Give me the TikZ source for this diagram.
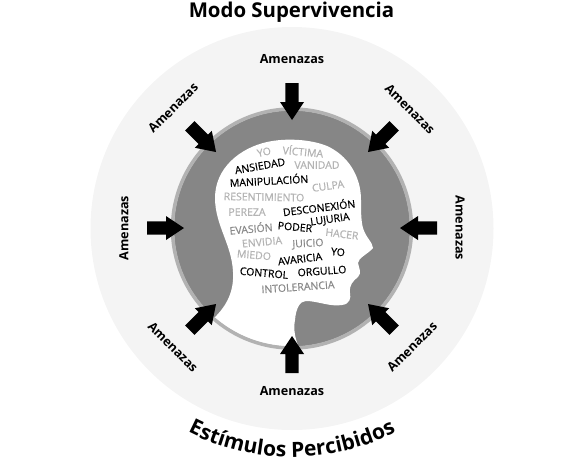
\documentclass[tikz,border=0pt]{standalone}
\usepackage{fontspec}
\setmainfont{Open Sans}
\newfontfamily\wordfont[FakeBold=0.5]{Open Sans}
\usetikzlibrary{decorations.text}
\definecolor{halo}{HTML}{F4F4F4}
\definecolor{ringc}{HTML}{B2B2B2}
\definecolor{darkc}{HTML}{868686}
\definecolor{wgray}{HTML}{B4B4B4}
\definecolor{mgray}{HTML}{8A8A8A}
\tikzset{
  threat/.pic={\fill[black] (0,0)--(18,12)--(18,6.7)--(37,6.7)--(37,-6.7)--(18,-6.7)--(18,-12)--cycle;},
  lab/.style={font=\bfseries\fontsize{12.6}{14}\selectfont, inner sep=0pt, text=black},
  wb/.style={font=\wordfont\fontsize{10.5}{11}\selectfont, inner sep=0pt, text=black},
  wg/.style={font=\wordfont\fontsize{10.5}{11}\selectfont, inner sep=0pt, text=wgray},
  wm/.style={font=\wordfont\fontsize{10.5}{11}\selectfont, inner sep=0pt, text=mgray},
}
\begin{document}
\begin{tikzpicture}[x=1pt,y=-1pt]
\useasboundingbox (0,0) rectangle (585,461);
\fill[halo] (292,228.5) circle[radius=201.5pt];
\fill[darkc] (292,228.5) circle[radius=118pt];
% head
\begin{scope}
\clip (292,228.5) circle[radius=118pt];
\fill[white] (300,350)
  .. controls (293,335) and (294,325) .. (295,320)
  .. controls (296,308) and (300,301) .. (306,301)
  .. controls (318,301) and (330,307) .. (342,305)
  .. controls (350,304) and (351,298) .. (350,293)
  .. controls (349,285) and (353,281) .. (358,277)
  .. controls (362,273) and (359,268) .. (358,263)
  .. controls (358,258) and (368,254) .. (373,248)
  .. controls (372,241) and (366,238) .. (363,228)
  .. controls (361,221) and (361,210) .. (361,200)
  .. controls (361,175) and (347,155) .. (327,146)
  .. controls (310,139) and (285,138) .. (267,142)
  .. controls (240,148) and (215,168) .. (215,198)
  .. controls (215,225) and (232,245) .. (233,272)
  .. controls (234,290) and (228,305) .. (213,319)
  -- (205,360) -- (300,360) -- cycle;
\end{scope}
% ring
\draw[ringc,line width=3.5pt] (292,228.5) circle[radius=119.5pt];
% words
\node[wg,rotate=12] (w1) at (264,152) {YO};
\node[wg,rotate=-5] (w2) at (303,151) {VÍCTIMA};
\node[wb,rotate=10] (w3) at (260,166) {ANSIEDAD};
\node[wg] (w4) at (317,165) {VANIDAD};
\node[wb,rotate=3] (w5) at (269,180) {MANIPULACIÓN};
\node[wg,rotate=8] (w6) at (328,186) {CULPA};
\node[wg,rotate=-1] (w7) at (264,197) {RESENTIMIENTO};
\node[wg] (w8) at (247,212) {PEREZA};
\node[wb,rotate=7] (w9) at (319,207) {DESCONEXIÓN};
\node[wb,rotate=8] (w10) at (330,220) {LUJURIA};
\node[wb,rotate=-5] (w11) at (295,227) {PODER};
\node[wm,rotate=5] (w12) at (251,228) {EVASIÓN};
\node[wg,rotate=-7] (w13) at (342,234) {HACER};
\node[wg,rotate=5] (w14) at (262,242) {ENVIDIA};
\node[wm,rotate=3] (w15) at (308,244) {JUICIO};
\node[wg,rotate=-5] (w16) at (254,255) {MIEDO};
\node[wb,rotate=-5] (w17) at (338,252) {YO};
\node[wb,rotate=7] (w18) at (300,259) {AVARICIA};
\node[wb,rotate=-5] (w19) at (264,273) {CONTROL};
\node[wb,rotate=4] (w20) at (322,271) {ORGULLO};
\node[wm,rotate=4] (w21) at (298,287) {INTOLERANCIA};
% arrows
\pic[rotate=90] at (292,120) {threat};
\pic[rotate=-90] at (292,336) {threat};
\pic[rotate=180] at (184,228) {threat};
\pic at (400,228) {threat};
\pic[rotate=135] at (216,152) {threat};
\pic[rotate=45] at (368,152) {threat};
\pic[rotate=225] at (216,304) {threat};
\pic[rotate=-45] at (368,304) {threat};
% labels
\node[lab] (a1) at (292,59) {Amenazas};
\node[lab] (a2) at (292,391) {Amenazas};
\node[lab,rotate=90] (a3) at (124,228) {Amenazas};
\node[lab,rotate=-90] (a4) at (460,228) {Amenazas};
\node[lab,rotate=45] (a5) at (173,108) {Amenazas};
\node[lab,rotate=-45] (a6) at (410,109) {Amenazas};
\node[lab,rotate=-45] (a7) at (173,347) {Amenazas};
\node[lab,rotate=45] (a8) at (412,347) {Amenazas};
% titles
\node[font=\bfseries\fontsize{20.4}{23}\selectfont,inner sep=0pt,anchor=base] (title) at (291.5,17.5) {Modo Supervivencia};
\path[decorate,decoration={text along path,text align=center,
  text={|\bfseries\fontsize{21}{24}\selectfont|Estímulos Percibidos}}]
  (178,426.5) .. controls (248.5,467.2) and (335.5,467.2) .. (406,426.5);
\end{tikzpicture}
\end{document}
